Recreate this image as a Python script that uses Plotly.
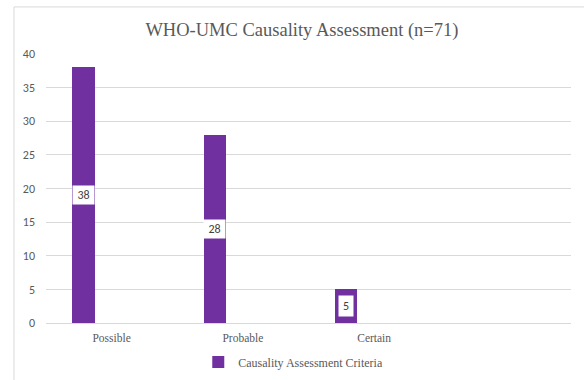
import plotly.graph_objects as go

categories = ["Possible", "Probable", "Certain"]
values = [38, 28, 5]
series_name = "Causality Assessment Criteria"
y_ticks = [0, 5, 10, 15, 20, 25, 30, 35, 40]
title_text = "WHO-UMC Causality Assessment (n=71)"

PURPLE = "#7030A0"
GRID = "#d9d9d9"
TXT = "#595959"
BAR_OFFSET = -0.30
BAR_WIDTH = 0.17

fig = go.Figure()
fig.add_trace(go.Bar(
    x=categories, y=values, name=series_name,
    marker=dict(color=PURPLE, line=dict(width=0)),
    width=BAR_WIDTH, offset=BAR_OFFSET,
    showlegend=True,
))

for i, v in enumerate(values):
    txt = str(v)
    fig.add_annotation(
        x=i + BAR_OFFSET + BAR_WIDTH / 2, y=v / 2, xref="x", yref="y",
        text=txt, showarrow=False,
        font=dict(family="Carlito, Liberation Sans, Arial", size=12, color="#404040"),
        bgcolor="white", width=7 * len(txt) + 7, height=18 if v > 5 else 20,
        borderpad=0,
    )

# outer chart border
fig.add_shape(type="rect", xref="paper", yref="paper",
              x0=-0.061, x1=1.2, y0=-0.4, y1=1.175,
              line=dict(color=GRID, width=1), fillcolor="rgba(0,0,0,0)", layer="below")

fig.update_layout(
    width=584, height=380,
    margin=dict(l=46, r=13, t=54, b=57, autoexpand=False),
    paper_bgcolor="white", plot_bgcolor="white",
    title=dict(text=title_text, x=0.517, xref="container", xanchor="center",
               y=1 - 30 / 380, yref="container", yanchor="middle",
               font=dict(family="Liberation Serif, Times New Roman, serif", size=18.5, color=TXT)),
    xaxis=dict(type="category", range=[-0.5, 3.5], showgrid=False, automargin=False,
               showline=True, linecolor=GRID, linewidth=1, ticks="",
               tickfont=dict(family="Liberation Serif, Times New Roman, serif", size=11.5, color=TXT),
               ticklabelstandoff=4, fixedrange=True),
    yaxis=dict(range=[0, 40], tickvals=y_ticks, showgrid=True, gridcolor=GRID, gridwidth=1,
               zeroline=False, showline=False, ticks="", automargin=False,
               tickfont=dict(family="Carlito, Liberation Sans, Arial", size=12, color=TXT),
               ticklabelstandoff=10),
    legend=dict(orientation="h", x=0.471, xanchor="center",
                yref="container", y=1 - 362 / 380, yanchor="middle",
                font=dict(family="Liberation Serif, Times New Roman, serif", size=12, color=TXT),
                itemwidth=30, tracegroupgap=0),
    bargap=0,
)

fig.write_html("out.html")
